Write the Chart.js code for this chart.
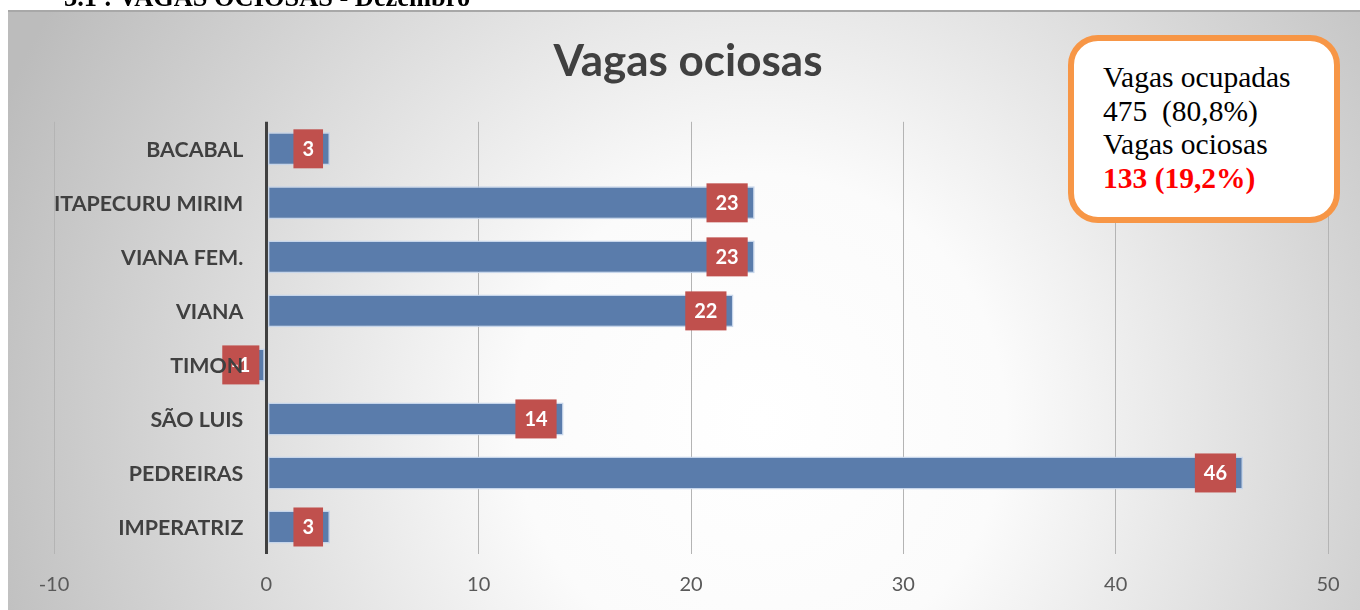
<!DOCTYPE html>
<html>
<head>
<meta charset="utf-8">
<script src="https://cdn.jsdelivr.net/npm/chart.js@4.4.1/dist/chart.umd.min.js"></script>
<style>
  html, body { margin: 0; padding: 0; background: #ffffff; }
  #wrap { position: relative; width: 1360px; height: 610px; overflow: hidden; }
  #c { position: absolute; left: 0; top: 0; }
  #heading { position: absolute; left: 64px; top: -16px; font: bold 26.4px "Liberation Serif", "Times New Roman", serif; color: #000; white-space: nowrap; line-height: 26.4px; }
  #note { position: absolute; left: 1068px; top: 35px; width: 272px; height: 188px; box-sizing: border-box;
          border: 6px solid #F79646; border-radius: 30px; background: #ffffff;
          padding: 20px 0 0 29px; font: 29.5px "Liberation Serif", "Times New Roman", serif; line-height: 33.5px; color: #000; }
  #note div { white-space: nowrap; }
  #note .red { color: #FF0000; font-weight: bold; }
</style>
</head>
<body>
<div id="wrap">
  <canvas id="c" width="1360" height="610"></canvas>
  <div id="heading">3.1 : VAGAS OCIOSAS - Dezembro</div>
  <div id="note">
    <div>Vagas ocupadas</div>
    <div>475&nbsp; (80,8%)</div>
    <div>Vagas ociosas</div>
    <div class="red">133 (19,2%)</div>
  </div>
</div>
<script>
const categories = ['BACABAL', 'ITAPECURU MIRIM', 'VIANA FEM.', 'VIANA', 'TIMON', 'SÃO LUIS', 'PEDREIRAS', 'IMPERATRIZ'];
const vagasOciosas = [3, 23, 23, 22, -1, 14, 46, 3];
const xMin = -10;
const xMax = 50;
const xStep = 10;
const chartTitle = 'Vagas ociosas';

const FONT = 'Lato, "Open Sans", sans-serif';

const backgroundPlugin = {
  id: 'bg',
  beforeDraw(chart) {
    const ctx = chart.ctx;
    ctx.save();
    ctx.fillStyle = '#ffffff';
    ctx.fillRect(0, 0, chart.width, chart.height);
    const g = ctx.createRadialGradient(760, 420, 0, 760, 420, 820);
    g.addColorStop(0, '#ffffff');
    g.addColorStop(0.3, '#fbfbfb');
    g.addColorStop(1, '#bcbcbc');
    ctx.fillStyle = g;
    ctx.fillRect(8, 11, chart.width - 8, chart.height - 11);
    ctx.strokeStyle = '#a8a8a8';
    ctx.lineWidth = 2;
    ctx.beginPath();
    ctx.moveTo(8, 11);
    ctx.lineTo(chart.width, 11);
    ctx.stroke();
    ctx.restore();
  }
};

const labelPlugin = {
  id: 'valueLabels',
  afterDatasetsDraw(chart) {
    const ctx = chart.ctx;
    const xs = chart.scales.x;
    const ys = chart.scales.y;
    const meta = chart.getDatasetMeta(0);
    ctx.save();
    // value labels (red boxes)
    ctx.font = 'bold 20px ' + FONT;
    ctx.textAlign = 'center';
    ctx.textBaseline = 'middle';
    meta.data.forEach((bar, i) => {
      const v = chart.data.datasets[0].data[i];
      const txt = String(v);
      const w = ctx.measureText(txt).width + 18;
      const h = 39;
      const end = v >= 0 ? xs.getPixelForValue(v) : xs.getPixelForValue(0);
      const right = end - 7;
      ctx.fillStyle = '#C0504D';
      ctx.fillRect(right - w, bar.y - h / 2, w, h);
      ctx.fillStyle = '#ffffff';
      ctx.fillText(txt, right - w / 2, bar.y + 1);
    });
    // category labels next to the vertical axis crossing at 0
    ctx.font = 'bold 21.4px ' + FONT;
    ctx.textAlign = 'right';
    ctx.fillStyle = '#404040';
    const x0 = xs.getPixelForValue(0);
    chart.data.labels.forEach((lab, i) => {
      ctx.fillText(lab, x0 - 23, ys.getPixelForValue(i) + 1);
    });
    ctx.restore();
  }
};

new Chart(document.getElementById('c'), {
  type: 'bar',
  data: {
    labels: categories,
    datasets: [{
      data: vagasOciosas,
      backgroundColor: '#5a7cab',
      borderColor: 'rgba(196,212,234,0.95)',
      borderWidth: 1.5,
      borderSkipped: false,
      barPercentage: 0.61,
      categoryPercentage: 1.0
    }]
  },
  options: {
    indexAxis: 'y',
    responsive: false,
    animation: false,
    devicePixelRatio: 1,
    layout: { padding: { left: 48, right: 32, top: 10, bottom: 14 } },
    plugins: {
      legend: { display: false },
      tooltip: { enabled: false },
      title: {
        display: true,
        text: chartTitle,
        color: '#404040',
        font: { family: FONT, size: 44, weight: 'bold' },
        padding: { top: 25, bottom: 34 }
      }
    },
    scales: {
      x: {
        min: xMin,
        max: xMax,
        afterFit(axis) { axis.height = 42; },
        ticks: {
          stepSize: xStep,
          color: '#595959',
          font: { family: FONT, size: 20 },
          padding: 19
        },
        grid: {
          drawTicks: false,
          color: (c) => (c.tick && c.tick.value === 0 ? '#404040' : '#b4b4b4'),
          lineWidth: (c) => (c.tick && c.tick.value === 0 ? 3 : 1)
        },
        border: { display: false }
      },
      y: {
        afterFit(axis) { axis.width = 6; },
        ticks: { display: false },
        grid: { display: false, drawTicks: false },
        border: { display: false }
      }
    }
  },
  plugins: [backgroundPlugin, labelPlugin]
});
</script>
</body>
</html>
